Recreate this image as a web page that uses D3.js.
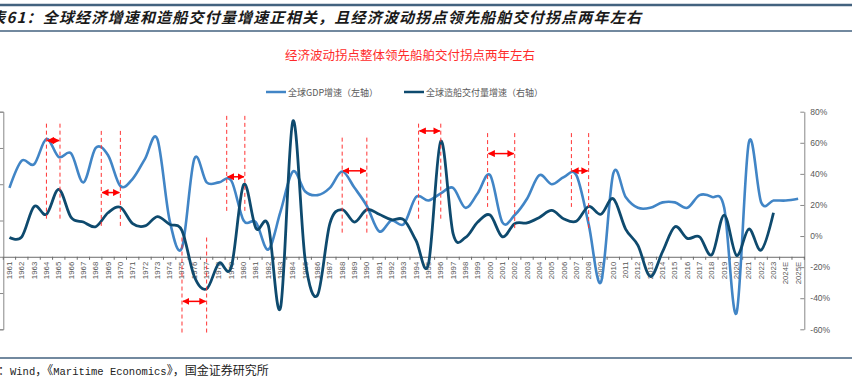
<!DOCTYPE html>
<html>
<head>
<meta charset="utf-8">
<script src="https://cdn.jsdelivr.net/npm/d3@7"></script>
<style>
body { margin: 0; background: #fff; }
svg { display: block; }
</style>
</head>
<body>
<svg id="chart" width="852" height="380"></svg>
<script>
// categories
var years = d3.range(1961, 2024).map(String).concat(["2024E", "2025E"]);

// world GDP growth, % (left axis)
var gdpGrowth = [3.8, 5.3, 5.1, 6.5, 5.5, 5.7, 4.1, 6.0, 5.6, 3.9,
                 4.3, 5.4, 6.5, 2.0, 0.5, 5.4, 4.1, 4.1, 4.2, 2.0,
                 1.9, 0.4, 2.5, 4.7, 3.6, 3.4, 3.8, 4.7, 3.8, 2.8,
                 1.4, 2.0, 1.8, 3.3, 3.1, 3.5, 3.8, 2.7, 3.5, 4.5,
                 1.9, 2.3, 3.2, 4.5, 4.0, 4.4, 4.5, 1.8, -1.4, 4.6,
                 3.3, 2.7, 2.7, 3.0, 3.0, 2.7, 3.4, 3.3, 2.7, -3.1,
                 6.3, 3.0, 3.1, 3.1, 3.2];

// world shipbuilding deliveries growth, % (right axis)
var shipGrowth = [-1.0, -0.5, 19.0, 14.0, 30.0, 12.0, 9.0, 6.0, 15.0, 18.5,
                  8.0, 6.5, 12.5, 7.5, 3.5, -26.0, -34.0, -17.5, -20.0, 33.0,
                  5.0, 7.0, -46.0, 74.0, -15.5, -38.0, 8.0, 17.0, 9.0, 17.0,
                  14.0, 10.5, 10.5, -3.0, -18.0, 61.0, 1.5, -1.0, 9.0, 13.5,
                  -0.5, 8.0, 8.5, 12.0, 16.5, 11.0, 9.5, 19.0, 14.0, 24.0,
                  4.5, -6.0, -26.0, -10.0, 6.0, -1.5, -0.5, -12.0, 13.5, -12.5,
                  4.5, -9.0, 15.0, null, null];

var leftTicks = [-4, -2, 0, 2, 4, 6, 8];
var rightTicks = [-60, -40, -20, 0, 20, 40, 60, 80];

// lead/lag marks: years of the two dashed lines, levels in left-axis units
var leadFrom = [1964, 1968.45, 1975, 1978.63, 1988, 1994.2, 1999.8, 2006.6];
var leadTo = [1965.1, 1970, 1977, 1980.1, 1990, 1996, 2002, 2008];
var arrowLevel = [6.41, 3.54, -2.46, 4.41, 4.74, 6.94, 5.69, 4.74];
var markTop = [7.34, 6.94, 1.06, 7.77, 6.57, 7.34, 6.82, 6.82];
var markBottomFrom = [2.09, 1.61, -4.24, 2.44, 1.25, 2.08, 2.75, 2.75];
var markBottomTo = [2.09, 1.61, -4.24, 2.44, 1.25, 2.08, 1.53, 1.53];

var svg = d3.select("#chart");
var W = 852;
var plotL = 3.3, plotR = 804.3, plotT = 111.7, plotB = 329.3;

var cjk = "'Noto Sans CJK SC', sans-serif";
var gray = "#595959";

// frame lines and title
svg.append("line").attr("x1", 0).attr("x2", W).attr("y1", 5).attr("y2", 5)
    .attr("stroke", "#43627f").attr("stroke-width", 2.5);
svg.append("line").attr("x1", 0).attr("x2", W).attr("y1", 31).attr("y2", 31)
    .attr("stroke", "#43627f").attr("stroke-width", 1.5);
svg.append("line").attr("x1", 0).attr("x2", W).attr("y1", 358).attr("y2", 358)
    .attr("stroke", "#43627f").attr("stroke-width", 1.5);

svg.append("text")
    .attr("x", -26).attr("y", 23)
    .attr("font-family", cjk).attr("font-size", 15).attr("font-weight", "bold")
    .attr("font-style", "italic").attr("letter-spacing", 1.2).attr("fill", "#1a1a1a")
    .text("图表61：全球经济增速和造船交付量增速正相关，且经济波动拐点领先船舶交付拐点两年左右");

svg.append("text")
    .attr("x", 410).attr("y", 59.5).attr("text-anchor", "middle")
    .attr("font-family", cjk).attr("font-size", 12.5)
    .attr("fill", "#ff2a2a")
    .text("经济波动拐点整体领先船舶交付拐点两年左右");

// source
var src = svg.append("text").attr("x", -2).attr("y", 375)
    .attr("font-family", "'Liberation Mono', " + cjk).attr("font-size", 12).attr("fill", "#222");
src.append("tspan").text("：");
src.append("tspan").attr("font-size", 10.5).text("Wind");
src.append("tspan").text("，《");
src.append("tspan").attr("font-size", 10.5).text("Maritime Economics");
src.append("tspan").text("》，国金证券研究所");

// legend
var legend = [["全球GDP增速（左轴）", "#4185c6", 266], ["全球造船交付量增速（右轴）", "#0e4a6e", 404]];
legend.forEach(function (d) {
    svg.append("line").attr("x1", d[2]).attr("x2", d[2] + 20).attr("y1", 92).attr("y2", 92)
        .attr("stroke", d[1]).attr("stroke-width", 2.5);
    svg.append("text").attr("x", d[2] + 22).attr("y", 95.5)
        .attr("font-family", cjk).attr("font-size", 9).attr("fill", gray).text(d[0]);
});

// scales
var x = d3.scaleBand().domain(years).range([plotL, plotR]).padding(0);
var xYear = d3.scaleLinear().domain([1960.5, 2025.5]).range([plotL, plotR]);
var yL = d3.scaleLinear().domain([-4, 8]).range([plotB, plotT]);
var yR = d3.scaleLinear().domain([-60, 80]).range([plotB, plotT]);
var cx = function (i) { return x(years[i]) + x.bandwidth() / 2; };

// left axis (labels fall outside the picture)
svg.append("g").attr("transform", "translate(" + plotL + ",0)")
    .call(d3.axisLeft(yL).tickValues(leftTicks).tickSize(4).tickFormat(function (d) { return d + "%"; }))
    .call(function (g) {
        g.select(".domain").attr("stroke", "#888");
        g.selectAll(".tick line").attr("stroke", "#888");
        g.selectAll("text").attr("fill", gray);
    });

// right axis
svg.append("g").attr("transform", "translate(" + plotR + ",0)")
    .call(d3.axisRight(yR).tickValues(rightTicks).tickSizeInner(-4).tickSizeOuter(0).tickPadding(6)
        .tickFormat(function (d) { return d + "%"; }))
    .call(function (g) {
        g.select(".domain").attr("stroke", "#888");
        g.selectAll(".tick line").attr("stroke", "#888");
        g.selectAll("text").attr("fill", gray).attr("font-size", 8.5)
            .attr("font-family", "'Liberation Sans', Arial, sans-serif");
    });

// category axis on left zero
var xAxis = svg.append("g").attr("transform", "translate(0," + yL(0) + ")")
    .call(d3.axisBottom(x).tickSize(0).tickPadding(0));
xAxis.select(".domain").attr("stroke", "#6b6b6b");
xAxis.selectAll(".tick text")
    .attr("transform", "rotate(-90)")
    .attr("text-anchor", "end").attr("dy", "0.32em").attr("x", -5).attr("y", 0)
    .attr("font-size", 7.8).attr("font-family", "'Liberation Sans', Arial, sans-serif")
    .attr("fill", "#555");
xAxis.selectAll(".edge").data(d3.range(years.length + 1)).enter().append("line")
    .attr("x1", function (i) { return plotL + i * x.bandwidth(); })
    .attr("x2", function (i) { return plotL + i * x.bandwidth(); })
    .attr("y1", 0).attr("y2", 3).attr("stroke", "#6b6b6b");

// series
var curve = d3.curveCatmullRom.alpha(0);
svg.append("path")
    .attr("d", d3.line().curve(curve).x(function (d, i) { return cx(i); }).y(function (d) { return yL(d); })(gdpGrowth))
    .attr("fill", "none").attr("stroke", "#4185c6").attr("stroke-width", 2.6);

svg.append("path")
    .attr("d", d3.line().curve(curve).defined(function (d) { return d !== null; })
        .x(function (d, i) { return cx(i); }).y(function (d) { return yR(d); })(shipGrowth))
    .attr("fill", "none").attr("stroke", "#0e4a6e").attr("stroke-width", 2.8);

// lead/lag annotations
var defs = svg.append("defs");
defs.append("marker").attr("id", "head").attr("viewBox", "0 0 10 10")
    .attr("refX", 9).attr("refY", 5).attr("markerWidth", 7).attr("markerHeight", 7)
    .attr("markerUnits", "userSpaceOnUse").attr("orient", "auto-start-reverse")
    .append("path").attr("d", "M0,0L10,5L0,10Z").attr("fill", "#ff0000");

leadFrom.forEach(function (a, i) {
    var b = leadTo[i];
    svg.append("line").attr("x1", xYear(a)).attr("x2", xYear(a))
        .attr("y1", yL(markTop[i])).attr("y2", yL(markBottomFrom[i]))
        .attr("stroke", "#ff3333").attr("stroke-dasharray", "4,3").attr("stroke-width", 1);
    svg.append("line").attr("x1", xYear(b)).attr("x2", xYear(b))
        .attr("y1", yL(markTop[i])).attr("y2", yL(markBottomTo[i]))
        .attr("stroke", "#ff3333").attr("stroke-dasharray", "4,3").attr("stroke-width", 1);
    svg.append("line").attr("x1", xYear(a) + 1).attr("x2", xYear(b) - 1)
        .attr("y1", yL(arrowLevel[i])).attr("y2", yL(arrowLevel[i]))
        .attr("stroke", "#ff0000").attr("stroke-width", 1.5)
        .attr("marker-start", "url(#head)").attr("marker-end", "url(#head)");
});
</script>
</body>
</html>
